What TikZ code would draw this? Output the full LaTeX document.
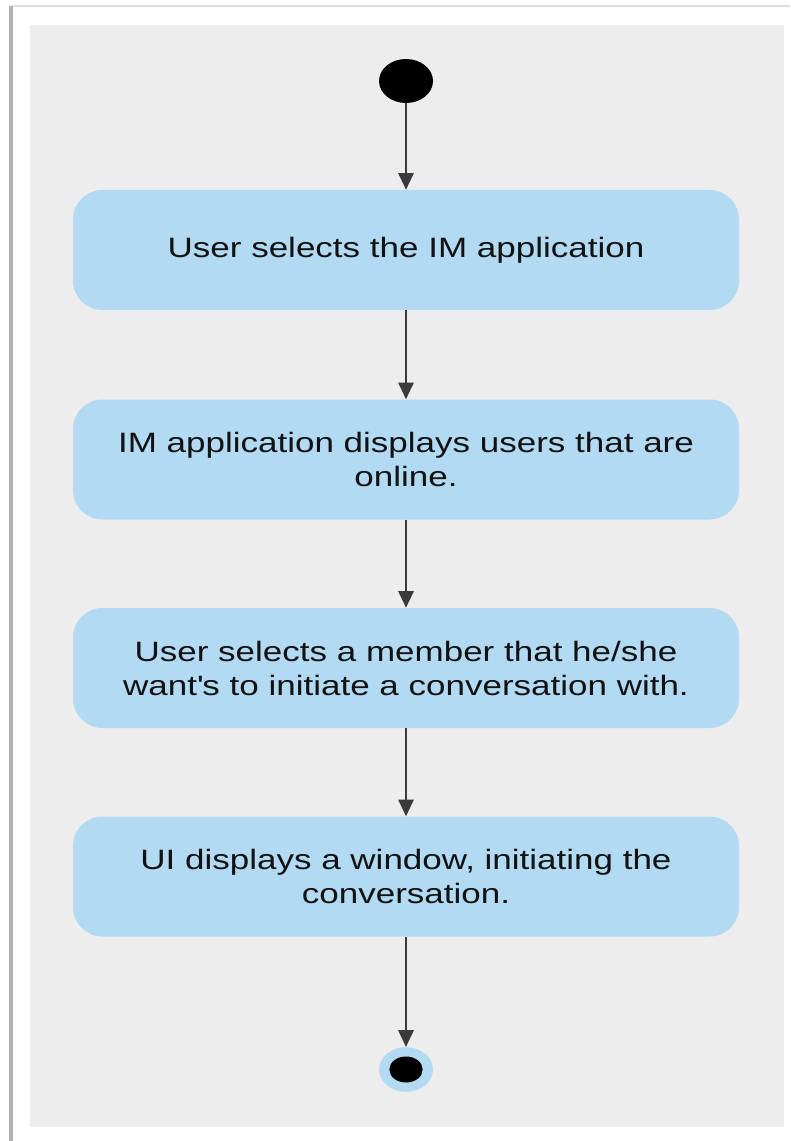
\documentclass[tikz,border=0pt]{standalone}
\usepackage{fontspec}
\setmainfont{Liberation Sans}[FakeStretch=1.25]
\usepackage{tikz}
\usetikzlibrary{shapes.geometric, arrows.meta}

\definecolor{panelgrey}{RGB}{237,237,237}
\definecolor{actblue}{RGB}{179,218,243}
\definecolor{flowgrey}{RGB}{58,58,58}

\tikzset{
  activity/.style={draw=none, fill=actblue, rounded corners=22pt, minimum width=499.5pt, minimum height=90pt, align=center, font=\fontsize{21}{25.5}\selectfont, text=black!93},
  startdot/.style={ellipse, fill=black, minimum width=40.5pt, minimum height=33pt, inner sep=0pt},
  endring/.style={ellipse, fill=actblue, minimum width=40.5pt, minimum height=33.5pt, inner sep=0pt},
  enddot/.style={ellipse, fill=black, minimum width=25pt, minimum height=19.5pt, inner sep=0pt},
  flow/.style={draw=flowgrey, line width=1.5pt, -{Triangle[width=11.5pt, length=12.5pt]}}
}

\begin{document}
\begin{tikzpicture}[x=0.75pt,y=0.75pt,yscale=-1,xscale=1]
\useasboundingbox (0,0) rectangle (790,1141);

%Shape: Page
\fill [white] (0,0) rectangle (790,1141);
\draw [black!12, line width=1.5pt] (11,6) -- (790,6);
\draw [black!30, line width=2.5pt] (11,1141) -- (11,6);
%Shape: Panel
\fill [panelgrey] (30,25) rectangle (784,1127);

%Start
\node [startdot] (start) at (406,81) {};

%Activities
\node [activity] (act1) at (406,250) {User selects the IM application};
\node [activity] (act2) at (406,459.5) {IM application displays users that are\\online.};
\node [activity] (act3) at (406,668) {User selects a member that he/she\\want\textquotesingle s to initiate a conversation with.};
\node [activity] (act4) at (406,876.5) {UI displays a window, initiating the\\conversation.};

%End
\node [endring] (stop) at (406,1069.5) {};
\node [enddot] (stopdot) at (stop.center) {};

%Flows
\draw [flow] (start) -- (act1);
\draw [flow] (act1) -- (act2);
\draw [flow] (act2) -- (act3);
\draw [flow] (act3) -- (act4);
\draw [flow] (act4) -- (stop);

\end{tikzpicture}
\end{document}
